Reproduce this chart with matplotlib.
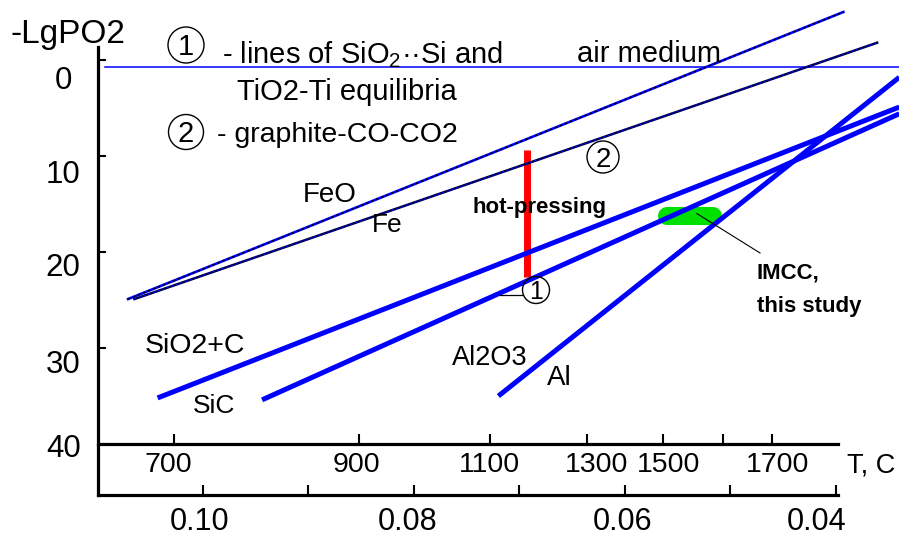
import numpy as np
import matplotlib
matplotlib.use("Agg")
import matplotlib.pyplot as plt
from matplotlib.patches import Ellipse
from matplotlib.transforms import ScaledTranslation
from matplotlib import font_manager

plt.rcParams['font.family'] = ['Liberation Sans', 'DejaVu Sans']
plt.rcParams['mathtext.fontset'] = 'custom'
plt.rcParams['mathtext.rm'] = 'Liberation Sans'
plt.rcParams['mathtext.it'] = 'Liberation Sans:italic'
plt.rcParams['mathtext.bf'] = 'Liberation Sans:bold'

# ---------------- data (x = 100/T[K], y = -lg PO2) ----------------
air_x = [0.1093, 0.0340]
air_y = [0.68, 0.68]
feo_x = [0.1071, 0.0393]
feo_y = [24.9, -5.0]
graph_x = [0.1065, 0.0361]
graph_y = [24.9, -1.8]
sio2c_x = [0.1043, 0.0340]
sio2c_y = [35.2, 4.9]
sic_x = [0.0944, 0.0340]
sic_y = [35.4, 5.6]
al_x = [0.0720, 0.0340]
al_y = [35.0, 1.8]
hotpress_T = 1170
hotpress_y = [9.4, 22.6]
imcc_x = [0.0560, 0.0517]
imcc_y = [16.2, 16.2]

recip_ticks = [0.10, 0.09, 0.08, 0.07, 0.06, 0.05, 0.04]
recip_labels = ['0.10', '', '0.08', '', '0.06', '', '0.04']
T_ticks = [700, 900, 1100, 1300, 1500, 1700, 1900]
T_labels = ['700', '900', '1100', '1300', '1500', '', '1700']
y_ticks = [0, 10, 20, 30, 40]
y_labels = ['0', '10', '20', '30', '40']

# ---------------- figure ----------------
W, H = 899, 537
fig = plt.figure(figsize=(W / 100, H / 100), dpi=100)
ax = fig.add_axes([98 / W, 42 / H, 801 / W, 495 / H])
X0, X1 = 0.10995, 0.034028
Y0, Y1 = 45.31, -6.25
ax.set_xlim(X0, X1)
ax.set_ylim(Y0, Y1)

names = {f.name for f in font_manager.fontManager.ttflist}
if 'Liberation Sans Narrow' in names:
    bold_kw = dict(family='Liberation Sans Narrow', weight='bold', size=19)
else:
    bold_kw = dict(family='Liberation Sans', weight='bold', size=16)

blue = '#0000ff'
# lines
ax.plot(air_x, air_y, color=blue, lw=1.1, zorder=2)
ax.plot(feo_x, feo_y, color=blue, lw=1.9, zorder=2)
ax.plot(feo_x, feo_y, color='k', lw=1.1, dashes=(1.5, 2.0), zorder=2.1)
ax.plot(graph_x, graph_y, color='#000040', lw=1.8, zorder=2)
ax.plot(graph_x, graph_y, color=blue, lw=1.0, dashes=(1.5, 2.0), zorder=2.1)
for xs, ys in [(sio2c_x, sio2c_y), (sic_x, sic_y), (al_x, al_y)]:
    ax.plot(xs, ys, color=blue, lw=3.6, solid_capstyle='butt', zorder=2.2)

hp_x = 100.0 / (hotpress_T + 273.0)
ax.plot([hp_x, hp_x], hotpress_y, color='#ff0000', lw=5, solid_capstyle='butt', zorder=1.5)
ax.plot(imcc_x, imcc_y, color='#00e000', lw=13, solid_capstyle='round', zorder=1.4)

# leader lines
ax.plot([0.05318, 0.04720], [16.0, 20.1], color='k', lw=0.8, zorder=3)
ax.plot([0.07185, 0.06976], [24.5, 24.5], color='k', lw=0.9, zorder=3)

# ---------------- axes styling ----------------
for s in ['top', 'right']:
    ax.spines[s].set_visible(False)
ax.spines['left'].set_linewidth(2.3)
ax.spines['bottom'].set_linewidth(2.3)
ax.spines['left'].set_bounds(-1.35, Y0)
ax.spines['bottom'].set_bounds(X0, 0.0398)

ax.set_xticks(recip_ticks, recip_labels)
ax.set_yticks(y_ticks, y_labels)
ax.tick_params(axis='x', direction='in', length=7.2, width=1.5, labelsize=22, pad=9)
ax.tick_params(axis='y', direction='in', length=6, width=1.5, labelsize=22.5, pad=25)

def to_T(x):
    x = np.asarray(x, dtype=float)
    with np.errstate(divide='ignore', invalid='ignore'):
        return 100.0 / x - 273.0

def to_x(T):
    T = np.asarray(T, dtype=float)
    with np.errstate(divide='ignore', invalid='ignore'):
        return 100.0 / (T + 273.0)

loc = (Y0 - 40) / (Y0 - Y1)
sec = ax.secondary_xaxis(loc, functions=(to_T, to_x))
sec.set_xticks(T_ticks, T_labels)
sec.tick_params(direction='in', length=7.2, width=1.5, labelsize=20.5, pad=6)
sec.spines['bottom'].set_linewidth(2.3)
sec.spines['bottom'].set_bounds(float(to_T(X0)), float(to_T(0.0398)))

# label offsets (px)
def shift(lab, dx, dy):
    lab.set_transform(lab.get_transform() +
                      ScaledTranslation(dx / 100, -dy / 100, fig.dpi_scale_trans))

for lab, dy in zip(ax.get_yticklabels(), [17, 15, 12.5, 13, 1.5]):
    lab.set_horizontalalignment('center')
    shift(lab, 0, dy)
for lab, dx in zip(ax.get_xticklabels(), [-3, 0, -6, 0, -2, 0, -19]):
    shift(lab, dx, 0)
for lab, dx in zip(sec.get_xticklabels(), [-5, -2, 0, 9, 6, 0, 5]):
    shift(lab, dx, 0)

# ---------------- texts ----------------
def ftxt(px, py, s, **kw):
    kw.setdefault('va', 'baseline')
    kw.setdefault('ha', 'left')
    fig.text(px / W, 1 - py / H, s, **kw)

def circ(px, py, d, digit, size):
    fig.add_artist(Ellipse((px / W, 1 - py / H), d / W, d / H,
                           transform=fig.transFigure, fill=False, ec='k', lw=1.0))
    em = size * 100 / 72
    ftxt(px, py + 0.358 * em, digit, ha='center', size=size)

ftxt(10, 43, '-LgPO2', size=24)
circ(186, 45, 36, '1', 21)
ftxt(222, 63, '- lines of SiO$_2$\u00b7\u00b7Si and', size=21)
ftxt(577, 62, 'air medium', size=21)
ftxt(237, 100, 'TiO2-Ti equilibria', size=21)
circ(186, 132, 35, '2', 21)
ftxt(217, 142, '- graphite-CO-CO2', size=20.5)

ftxt(303, 202, 'FeO', size=20)
ftxt(372, 232, 'Fe', size=19)
ftxt(472, 213, 'hot-pressing', **bold_kw)
circ(603, 157, 32, '2', 20)
circ(536, 290, 27, '1', 18)
ftxt(145, 353, 'SiO2+C', size=20.5)
ftxt(193, 413, 'SiC', size=19)
ftxt(452, 365, 'Al2O3', size=19.5)
ftxt(547, 385, 'Al', size=20)
ftxt(757, 278, 'IMCC,', **bold_kw)
ftxt(757, 312, 'this study', **bold_kw)
ftxt(847, 473, 'T, C', size=19.5)

fig.savefig('out.png', dpi=100)
